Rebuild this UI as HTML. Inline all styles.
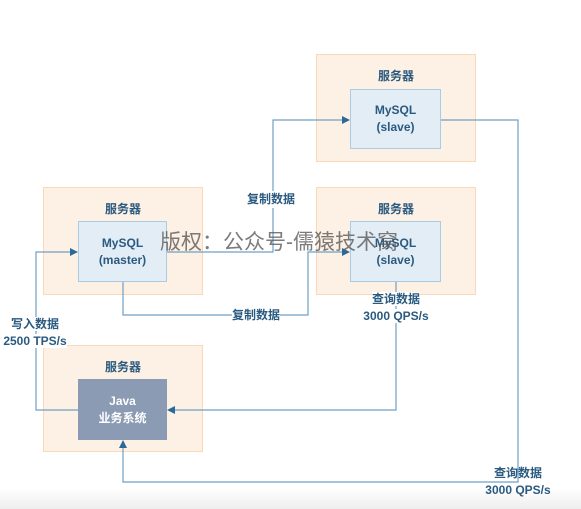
<!DOCTYPE html>
<html><head><meta charset="utf-8"><style>
body{margin:0;width:581px;height:509px;background:#fff;overflow:hidden;position:relative;font-family:"Liberation Sans","Noto Sans CJK SC",sans-serif}
.srv{position:absolute;background:#fdf0e4;border:1px solid #f9d9b8;box-sizing:border-box}
.st{position:absolute;width:100%;text-align:center;top:12px;font-size:12px;font-weight:bold;color:#2a5a80}
.in{position:absolute;box-sizing:border-box;border:1px solid #a9cbe3;background:#e3edf5;color:#2a5a80;font-size:12px;font-weight:bold;text-align:center;display:flex;align-items:center;justify-content:center;line-height:17px}
.lbl{position:absolute;font-size:12px;font-weight:bold;color:#2a5a80;background:#fff;text-align:center;line-height:17px;white-space:nowrap}
</style></head><body>
<div style="position:absolute;left:0;top:488px;width:581px;height:21px;background:linear-gradient(#fff,#eeeeee)"></div>
<div class="srv" style="left:316px;top:54px;width:160px;height:108px"><div class="st">服务器</div></div>
<div class="srv" style="left:316px;top:187px;width:160px;height:108px"><div class="st">服务器</div></div>
<div class="srv" style="left:43px;top:187px;width:160px;height:108px"><div class="st">服务器</div></div>
<div class="srv" style="left:43px;top:345px;width:160px;height:107px"><div class="st">服务器</div></div>
<svg width="581" height="509" style="position:absolute;left:0;top:0">
<g fill="none" stroke="#6f9fc4" stroke-width="1.2">
<polyline points="167,252 273,252 273,120 344,120"/>
<polyline points="123,282 123,315 308,315 308,252 344,252"/>
<polyline points="78,410 36,410 36,252 72,252"/>
<polyline points="396,282 396,410 173,410"/>
<polyline points="441,120 518,120 518,482 123,482 123,446"/>
</g>
<g fill="#2a6a9a">
<polygon points="350,120 342,116 342,124"/>
<polygon points="350,252 342,248 342,256"/>
<polygon points="78,252 70,248 70,256"/>
<polygon points="167,410 175,406 175,414"/>
<polygon points="123,440 119,448 127,448"/>
</g>
</svg>
<div class="in" style="left:350px;top:89px;width:91px;height:60px">MySQL<br>(slave)</div>
<div class="in" style="left:350px;top:221px;width:91px;height:61px">MySQL<br>(slave)</div>
<div class="in" style="left:78px;top:221px;width:89px;height:61px">MySQL<br>(master)</div>
<div class="in" style="left:78px;top:379px;width:89px;height:61px;background:#8a9bb3;border-color:#8a9bb3;color:#fff">Java<br>业务系统</div>
<div class="lbl" style="left:247px;top:191px">复制数据</div>
<div class="lbl" style="left:232px;top:307px">复制数据</div>
<div class="lbl" style="left:0px;top:316px;width:70px;background:transparent"><span style="background:#fff">写入数据</span><br><span style="background:#fff">2500 TPS/s</span></div>
<div class="lbl" style="left:356px;top:291px;width:80px;background:transparent"><span style="background:#fff">查询数据</span><br><span style="background:#fff">3000 QPS/s</span></div>
<div class="lbl" style="left:478px;top:465px;width:80px;background:transparent">查询数据<br>3000 QPS/s</div>
<div style="position:absolute;left:160px;top:226px;font-size:21px;color:rgba(90,90,90,0.8);white-space:nowrap">版权：公众号-儒猿技术窝</div>
</body></html>
